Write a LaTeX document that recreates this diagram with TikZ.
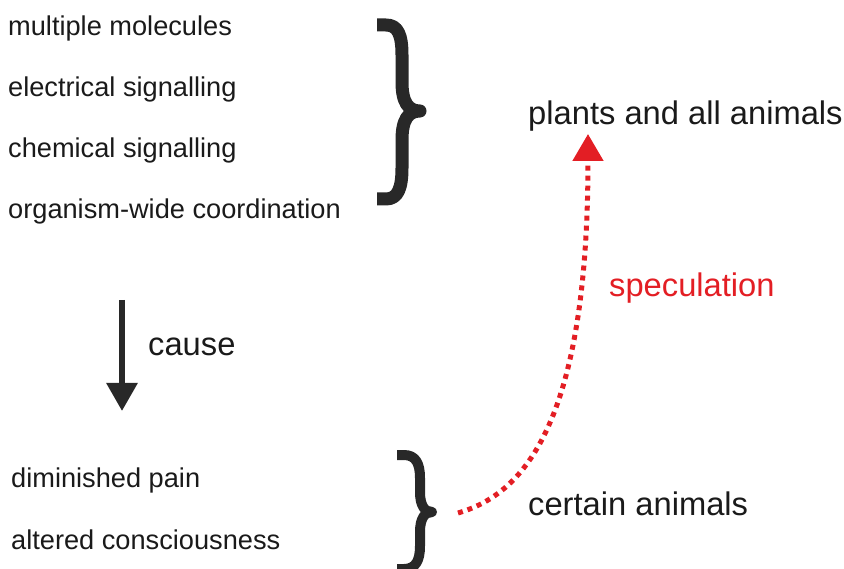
\documentclass[tikz,border=0pt]{standalone}
\usepackage{fontspec}
\setmainfont{Liberation Sans}
\usetikzlibrary{arrows.meta}
\definecolor{txt}{RGB}{26,26,26}
\definecolor{brc}{RGB}{40,40,40}
\definecolor{specred}{RGB}{227,30,36}
\begin{document}
\begin{tikzpicture}[x=1pt,y=-1pt,
  small/.style={anchor=base west,inner sep=0pt,text=txt,font=\fontsize{27.2}{32}\selectfont},
  big/.style={anchor=base west,inner sep=0pt,text=txt,font=\fontsize{32.7}{38}\selectfont},
  bracestroke/.style={draw=brc,line cap=butt,line join=round}]
\useasboundingbox (0,0) rectangle (844,569);
\clip (0,0) rectangle (844,569);
% left texts
\node[small] (m1) at (8,35.5) {multiple molecules};
\node[small] (m2) at (8,96.5) {electrical signalling};
\node[small] (m3) at (8,157.5) {chemical signalling};
\node[small] (m4) at (8,218.5) {organism-wide coordination};
\node[small] (d1) at (11,487) {diminished pain};
\node[small] (d2) at (11,549) {altered consciousness};
\node[big] (cause) at (148,355.5) {cause};
\node[big] (plants) at (528,125) {plants and all animals};
\node[big] (certain) at (528,515) {certain animals};
\node[big,text=specred] (spec) at (609,297) {speculation};
% top brace
\draw[bracestroke,line width=13pt] (377,25) -- (386,25)
  .. controls (398,25) and (402,35) .. (402,55) -- (402,82)
  .. controls (402,102) and (408,111) .. (420,111)
  .. controls (408,111) and (402,120) .. (402,140) -- (402,168)
  .. controls (402,188) and (398,199) .. (386,199) -- (377,199);
% bottom brace
\draw[bracestroke,line width=10pt] (397,455) -- (404,455)
  .. controls (416,455) and (420,464) .. (420,478) -- (420,492)
  .. controls (420,506) and (425,512) .. (432,512)
  .. controls (425,512) and (420,518) .. (420,532) -- (420,546)
  .. controls (420,560) and (416,569) .. (404,569) -- (397,569);
% cause arrow
\coordinate (ca) at (122,300);
\coordinate (cb) at (122,411);
\draw[brc,line width=6pt,-{Triangle[length=28pt,width=30pt]}] (ca) -- (cb);
% speculation arrow
\coordinate (sa) at (458,513);
\coordinate (sb) at (588,134);
\draw[specred,line width=5pt,dash pattern=on 5pt off 5pt,-{Triangle[length=27pt,width=30pt]}]
  (sa) .. controls (520,495) and (588,430) .. (sb);
\end{tikzpicture}
\end{document}
